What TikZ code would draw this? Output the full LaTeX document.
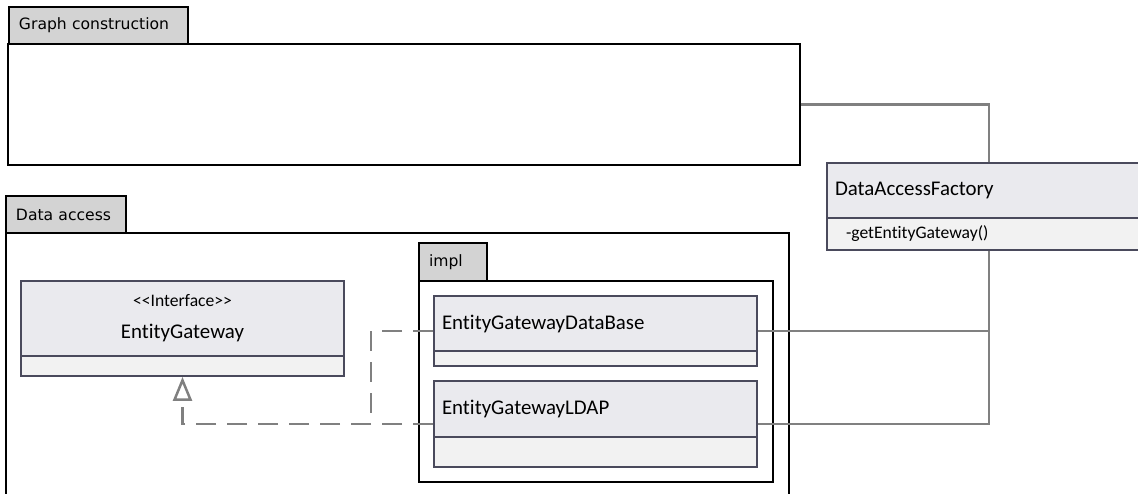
\documentclass[tikz,border=0pt]{standalone}
\usepackage{fontspec}
\setmainfont{Carlito}[Ligatures={NoCommon}]
\newfontfamily\tabfont{DejaVu Sans}
\usetikzlibrary{arrows.meta}

\definecolor{classline}{HTML}{4A4A5C}
\definecolor{classhead}{HTML}{EAEAEE}
\definecolor{classbody}{HTML}{F2F2F2}
\definecolor{tabfill}{HTML}{D3D3D3}
\definecolor{linkgray}{HTML}{808080}

\begin{document}
\begin{tikzpicture}[x=1pt,y=-1pt,
    pkgtab/.style={draw=black,line width=1.2pt,fill=tabfill,inner xsep=10pt,inner ysep=0pt,
      align=left,font=\tabfont\fontsize{15.6}{18}\selectfont},
    pkgbox/.style={draw=black,line width=1.2pt,inner sep=0pt},
    chead/.style={draw=classline,line width=1.8pt,fill=classhead,inner xsep=8pt,inner ysep=0pt,
      align=left,font=\fontsize{20.9}{24}\selectfont},
    cbody/.style={draw=classline,line width=1.8pt,fill=classbody,inner xsep=8pt,inner ysep=0pt,
      align=left,font=\fontsize{17.6}{21}\selectfont},
    link/.style={draw=linkgray,line width=2.5pt},
    realize/.style={link,dash pattern=on 20pt off 11pt}]
   \useasboundingbox (0,0) rectangle (1138,493);
   % packages
   \node[pkgtab,text width=159pt,minimum height=37pt] (graphtab) at (98.5,25.5) {Graph construction};
   \node[pkgbox,minimum width=792pt,minimum height=121pt] (graph) at (404,104.5) {};
   \node[pkgtab,text width=100pt,minimum height=37pt] (datatab) at (66,214.5) {Data access};
   \node[pkgbox,minimum width=783pt,minimum height=282pt] (data) at (397.5,374) {};
   \node[pkgtab,text width=48pt,minimum height=38pt,inner xsep=10pt] (impltab) at (453,262) {impl};
   \node[pkgbox,minimum width=354pt,minimum height=201pt] (impl) at (596,381.5) {};
   % classes
   \node[chead,text width=307pt,minimum height=75pt,align=center] (eghead) at (182.5,318.5)
     {{\fontsize{17.6}{21}\selectfont <\kern0pt<Interface>\kern0pt>}\\[8pt]EntityGateway};
   \node[cbody,text width=307pt,minimum height=20pt] (egbody) at (182.5,366) {};
   \node[chead,text width=307pt,minimum height=55pt] (dbhead) at (595.5,323.5) {EntityGatewayDataBase};
   \node[cbody,text width=307pt,minimum height=15pt] (dbbody) at (595.5,358.5) {};
   \node[chead,text width=307pt,minimum height=56pt] (ldaphead) at (595.5,409) {EntityGatewayLDAP};
   \node[cbody,text width=307pt,minimum height=30pt] (ldapbody) at (595.5,452) {};
   \node[chead,text width=308pt,minimum height=55pt] (facthead) at (989,190.5) {DataAccessFactory};
   \node[cbody,text width=308pt,minimum height=32pt] (factbody) at (989,234) {\hspace*{11pt}-getEntityGateway()};
   % ports
   \coordinate (dbeast) at ([yshift=-7.5pt]dbhead.east);
   \coordinate (dbwest) at ([yshift=-7.5pt]dbhead.west);
   \coordinate (ldapeast) at ([yshift=-15pt]ldaphead.east);
   \coordinate (ldapwest) at ([yshift=-15pt]ldaphead.west);
   \coordinate (bend) at ([xshift=-62pt]ldapwest);
   % connectors
   \draw[link] (graph.east) -| (facthead.north);
   \draw[link] (factbody.south) |- (ldapeast);
   \draw[link] (dbeast) -- (dbeast -| factbody.south);
   \draw[realize] (dbwest) -| (bend);
   \draw[realize,-{Triangle[open,length=24pt,width=19pt]}] (ldapwest) -| (egbody.south);
\end{tikzpicture}
\end{document}
